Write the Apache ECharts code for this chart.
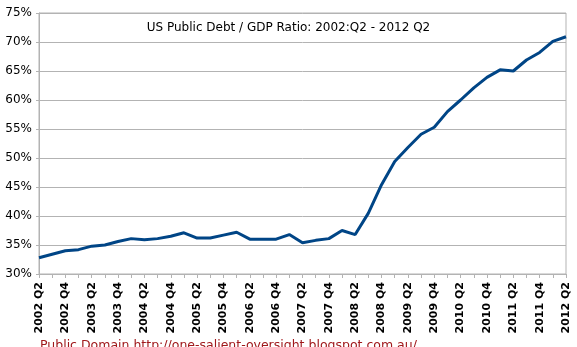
<!DOCTYPE html>
<html>
<head>
<meta charset="utf-8">
<script src="https://cdn.jsdelivr.net/npm/echarts@6/dist/echarts.min.js"></script>
<style>html,body{margin:0;padding:0;background:#fff}#c{width:577px;height:347px}</style>
</head>
<body>
<div id="c"></div>
<script>
const categories = [
  "2002 Q2","2002 Q3","2002 Q4",
  "2003 Q1","2003 Q2","2003 Q3","2003 Q4",
  "2004 Q1","2004 Q2","2004 Q3","2004 Q4",
  "2005 Q1","2005 Q2","2005 Q3","2005 Q4",
  "2006 Q1","2006 Q2","2006 Q3","2006 Q4",
  "2007 Q1","2007 Q2","2007 Q3","2007 Q4",
  "2008 Q1","2008 Q2","2008 Q3","2008 Q4",
  "2009 Q1","2009 Q2","2009 Q3","2009 Q4",
  "2010 Q1","2010 Q2","2010 Q3","2010 Q4",
  "2011 Q1","2011 Q2","2011 Q3","2011 Q4",
  "2012 Q1","2012 Q2"
];
const debtToGdp = [
  32.8, 33.4, 34.0,
  34.2, 34.8, 35.0, 35.6,
  36.1, 35.9, 36.1, 36.5,
  37.1, 36.2, 36.2, 36.7,
  37.2, 36.0, 36.0, 36.0,
  36.8, 35.4, 35.8, 36.1,
  37.5, 36.8, 40.5, 45.4,
  49.4, 51.8, 54.1, 55.3,
  58.0, 60.0, 62.1, 63.9,
  65.2, 65.0, 66.9, 68.2,
  70.1, 70.9
];
const titleText = "US Public Debt / GDP Ratio: 2002:Q2 - 2012 Q2";
const footerText = "Public Domain http://one-salient-oversight.blogspot.com.au/";

const chart = echarts.init(document.getElementById('c'), null, {renderer: 'canvas'});
chart.setOption({
  animation: false,
  backgroundColor: '#ffffff',
  textStyle: {fontFamily: 'DejaVu Sans'},
  title: {
    text: titleText,
    left: 'center',
    top: 17,
    textStyle: {fontFamily: 'DejaVu Sans', fontSize: 12, fontWeight: 'normal', color: '#000'}
  },
  grid: {
    left: 39, right: 11, top: 13, bottom: 73,
    show: true, borderColor: '#b3b3b3', borderWidth: 1
  },
  xAxis: {
    type: 'category',
    data: categories,
    boundaryGap: false,
    axisLine: {lineStyle: {color: '#b3b3b3', width: 1}},
    axisTick: {show: true, interval: 0, length: 4, lineStyle: {color: '#b3b3b3'}},
    axisLabel: {
      interval: 1, rotate: 90, margin: 8,
      fontFamily: 'DejaVu Sans', fontSize: 11, fontWeight: 'bold', color: '#000'
    },
    splitLine: {show: false}
  },
  yAxis: {
    type: 'value',
    min: 30, max: 75, interval: 5,
    axisLine: {show: true, lineStyle: {color: '#b3b3b3'}},
    axisTick: {show: true, length: 3, lineStyle: {color: '#b3b3b3'}},
    axisLabel: {formatter: '{value}%', fontFamily: 'DejaVu Sans', fontSize: 12, color: '#000', margin: 7},
    splitLine: {show: true, lineStyle: {color: '#b3b3b3', width: 1}}
  },
  series: [{
    type: 'line',
    data: debtToGdp,
    symbol: 'none',
    lineStyle: {color: '#004586', width: 3},
    itemStyle: {color: '#004586'}
  }],
  graphic: [{
    type: 'text',
    left: 40,
    top: 339,
    style: {text: footerText, fontFamily: 'DejaVu Sans', fontSize: 12.5, fill: '#a0191c'}
  }]
});
</script>
</body>
</html>
